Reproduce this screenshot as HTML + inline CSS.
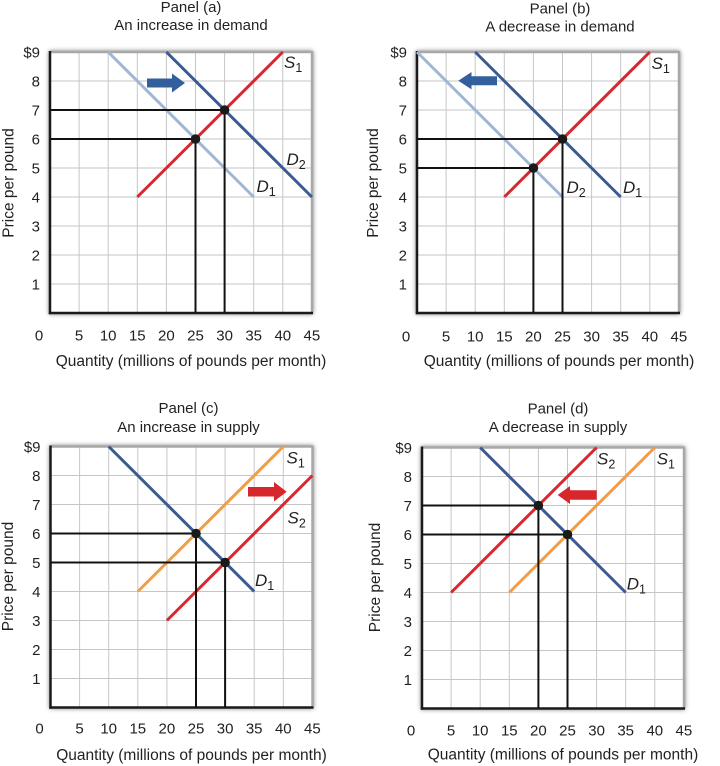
<!DOCTYPE html>
<html>
<head>
<meta charset="utf-8">
<style>
html,body{margin:0;padding:0;background:#fff;}
svg{display:block;}
text{font-family:"Liberation Sans",sans-serif;fill:#231f20;}
.t{font-size:15px;text-anchor:middle;}
.tk{font-size:15px;}
.ty{text-anchor:end;}
.tx{text-anchor:middle;}
.ax{font-size:15.5px;text-anchor:middle;}
.lb{font-size:17px;font-style:italic;}
.sb{font-size:12.5px;font-style:normal;}
.g{stroke:#c6c6c6;stroke-width:1;}
.bk{stroke:#111;stroke-width:2;fill:none;}
.dk{stroke:#3a5b92;stroke-width:3;}
.lt{stroke:#9fb6d4;stroke-width:3;}
.rd{stroke:#d7282f;stroke-width:3;}
.or{stroke:#f29d45;stroke-width:3;}
</style>
</head>
<body>
<svg width="720" height="766" viewBox="0 0 720 766" xmlns="http://www.w3.org/2000/svg">
<defs>
<filter id="sh" x="-10%" y="-10%" width="120%" height="120%"><feGaussianBlur stdDeviation="2.5"/></filter>
<g id="frame">
<rect x="-1" y="-262" width="264" height="263" fill="#777" filter="url(#sh)"/>
<rect x="0" y="-261" width="262" height="261" fill="#fff"/>
<g class="g">
<line x1="29.1" y1="-261" x2="29.1" y2="0"/>
<line x1="58.2" y1="-261" x2="58.2" y2="0"/>
<line x1="87.3" y1="-261" x2="87.3" y2="0"/>
<line x1="116.4" y1="-261" x2="116.4" y2="0"/>
<line x1="145.5" y1="-261" x2="145.5" y2="0"/>
<line x1="174.6" y1="-261" x2="174.6" y2="0"/>
<line x1="203.7" y1="-261" x2="203.7" y2="0"/>
<line x1="232.8" y1="-261" x2="232.8" y2="0"/>
<line x1="0" y1="-29" x2="262" y2="-29"/>
<line x1="0" y1="-58" x2="262" y2="-58"/>
<line x1="0" y1="-87" x2="262" y2="-87"/>
<line x1="0" y1="-116" x2="262" y2="-116"/>
<line x1="0" y1="-145" x2="262" y2="-145"/>
<line x1="0" y1="-174" x2="262" y2="-174"/>
<line x1="0" y1="-203" x2="262" y2="-203"/>
<line x1="0" y1="-232" x2="262" y2="-232"/>
</g>
<line x1="0" y1="-261" x2="262" y2="-261" stroke="#a8a8a8" stroke-width="2.5"/>
<line x1="262" y1="-262" x2="262" y2="0" stroke="#a8a8a8" stroke-width="2.5"/>
<line x1="0" y1="-262" x2="0" y2="1.2" stroke="#1a1a1a" stroke-width="2.5"/>
<line x1="-1.2" y1="0" x2="263" y2="0" stroke="#1a1a1a" stroke-width="2.5"/>
<g class="tk ty">
<text x="-10" y="-255.5">$9</text>
<text x="-10" y="-226.5">8</text>
<text x="-10" y="-197.5">7</text>
<text x="-10" y="-168.5">6</text>
<text x="-10" y="-139.5">5</text>
<text x="-10" y="-110.5">4</text>
<text x="-10" y="-81.5">3</text>
<text x="-10" y="-52.5">2</text>
<text x="-10" y="-23.5">1</text>
</g>
</g>
<g id="xt" class="tk tx">
<text x="-11" y="0">0</text>
<text x="29.1" y="0">5</text>
<text x="58.2" y="0">10</text>
<text x="87.3" y="0">15</text>
<text x="116.4" y="0">20</text>
<text x="145.5" y="0">25</text>
<text x="174.6" y="0">30</text>
<text x="203.7" y="0">35</text>
<text x="232.8" y="0">40</text>
<text x="261.9" y="0">45</text>
</g>
</defs>

<!-- Panel (a) -->
<g transform="translate(50,313)">
<use href="#frame"/>
<use href="#xt" y="27.5"/>
<text class="t" x="141" y="-301">Panel (a)</text>
<text class="t" x="141" y="-283">An increase in demand</text>
<text class="ax" x="141" y="53">Quantity (millions of pounds per month)</text>
<text class="ax" transform="translate(-36.5,-130) rotate(-90)" x="0" y="0">Price per pound</text>
<line class="lt" x1="58.2" y1="-261" x2="203.7" y2="-116"/>
<line class="dk" x1="116.4" y1="-261" x2="261.9" y2="-116"/>
<line class="rd" x1="87.3" y1="-116" x2="232.8" y2="-261"/>
<polyline class="bk" points="0,-203 174.6,-203 174.6,0"/>
<polyline class="bk" points="0,-174 145.5,-174 145.5,0"/>
<circle cx="145.5" cy="-174" r="4.8" fill="#1a1a1a"/>
<circle cx="174.6" cy="-203" r="4.8" fill="#1a1a1a"/>
<polygon points="97,-234.5 122,-234.5 122,-239.5 135,-230 122,-220.5 122,-225.5 97,-225.5" fill="#33609c"/>
<text class="lb" x="234" y="-245">S<tspan class="sb" dy="4">1</tspan></text>
<text class="lb" x="236.5" y="-148">D<tspan class="sb" dy="4">2</tspan></text>
<text class="lb" x="206.5" y="-121">D<tspan class="sb" dy="4">1</tspan></text>
</g>

<!-- Panel (b) -->
<g transform="translate(417,313)">
<use href="#frame"/>
<use href="#xt" y="28.5"/>
<text class="t" x="143" y="-299.5">Panel (b)</text>
<text class="t" x="143" y="-281.5">A decrease in demand</text>
<text class="ax" x="142" y="53">Quantity (millions of pounds per month)</text>
<text class="ax" transform="translate(-39,-130) rotate(-90)" x="0" y="0">Price per pound</text>
<line class="lt" x1="0" y1="-261" x2="145.5" y2="-116"/>
<line class="dk" x1="58.2" y1="-261" x2="203.7" y2="-116"/>
<line class="rd" x1="87.3" y1="-116" x2="232.8" y2="-261"/>
<polyline class="bk" points="0,-174 145.5,-174 145.5,0"/>
<polyline class="bk" points="0,-145 116.4,-145 116.4,0"/>
<circle cx="145.5" cy="-174" r="4.8" fill="#1a1a1a"/>
<circle cx="116.4" cy="-145" r="4.8" fill="#1a1a1a"/>
<polygon points="80,-236.8 54.5,-236.8 54.5,-241 41.3,-232.3 54.5,-223.6 54.5,-227.8 80,-227.8" fill="#33609c"/>
<text class="lb" x="234.5" y="-244">S<tspan class="sb" dy="4">1</tspan></text>
<text class="lb" x="149.5" y="-120">D<tspan class="sb" dy="4">2</tspan></text>
<text class="lb" x="206" y="-120">D<tspan class="sb" dy="4">1</tspan></text>
</g>

<!-- Panel (c) -->
<g transform="translate(50.5,707.5)">
<use href="#frame"/>
<use href="#xt" y="26"/>
<text class="t" x="138" y="-294.5">Panel (c)</text>
<text class="t" x="138" y="-275.5">An increase in supply</text>
<text class="ax" x="141" y="52.5">Quantity (millions of pounds per month)</text>
<text class="ax" transform="translate(-37.5,-131) rotate(-90)" x="0" y="0">Price per pound</text>
<line class="dk" x1="58.2" y1="-261" x2="203.7" y2="-116"/>
<line class="or" x1="87.3" y1="-116" x2="232.8" y2="-261"/>
<line class="rd" x1="116.4" y1="-87" x2="261.9" y2="-232"/>
<polyline class="bk" points="0,-174 145.5,-174 145.5,0"/>
<polyline class="bk" points="0,-145 174.6,-145 174.6,0"/>
<circle cx="145.5" cy="-174" r="4.8" fill="#1a1a1a"/>
<circle cx="174.6" cy="-145" r="4.8" fill="#1a1a1a"/>
<polygon points="197.5,-220.5 223.5,-220.5 223.5,-225.5 236.2,-215.8 223.5,-206 223.5,-211 197.5,-211" fill="#d8262d"/>
<text class="lb" x="236" y="-244">S<tspan class="sb" dy="4">1</tspan></text>
<text class="lb" x="237" y="-184">S<tspan class="sb" dy="4">2</tspan></text>
<text class="lb" x="204.5" y="-121.5">D<tspan class="sb" dy="4">1</tspan></text>
</g>

<!-- Panel (d) -->
<g transform="translate(422,708.5)">
<use href="#frame"/>
<use href="#xt" y="27"/>
<text class="t" x="136" y="-295">Panel (d)</text>
<text class="t" x="136" y="-276.5">A decrease in supply</text>
<text class="ax" x="141" y="51">Quantity (millions of pounds per month)</text>
<text class="ax" transform="translate(-42,-131) rotate(-90)" x="0" y="0">Price per pound</text>
<line class="dk" x1="58.2" y1="-261" x2="203.7" y2="-116"/>
<line class="or" x1="87.3" y1="-116" x2="232.8" y2="-261"/>
<line class="rd" x1="29.1" y1="-116" x2="174.6" y2="-261"/>
<polyline class="bk" points="0,-203 116.4,-203 116.4,0"/>
<polyline class="bk" points="0,-174 145.5,-174 145.5,0"/>
<circle cx="116.4" cy="-203" r="4.8" fill="#1a1a1a"/>
<circle cx="145.5" cy="-174" r="4.8" fill="#1a1a1a"/>
<polygon points="174.7,-218.3 148,-218.3 148,-222.5 135.7,-213.5 148,-204.5 148,-208.7 174.7,-208.7" fill="#d8262d"/>
<text class="lb" x="175" y="-244">S<tspan class="sb" dy="4">2</tspan></text>
<text class="lb" x="234.7" y="-244">S<tspan class="sb" dy="4">1</tspan></text>
<text class="lb" x="204.7" y="-119">D<tspan class="sb" dy="4">1</tspan></text>
</g>
</svg>
</body>
</html>
